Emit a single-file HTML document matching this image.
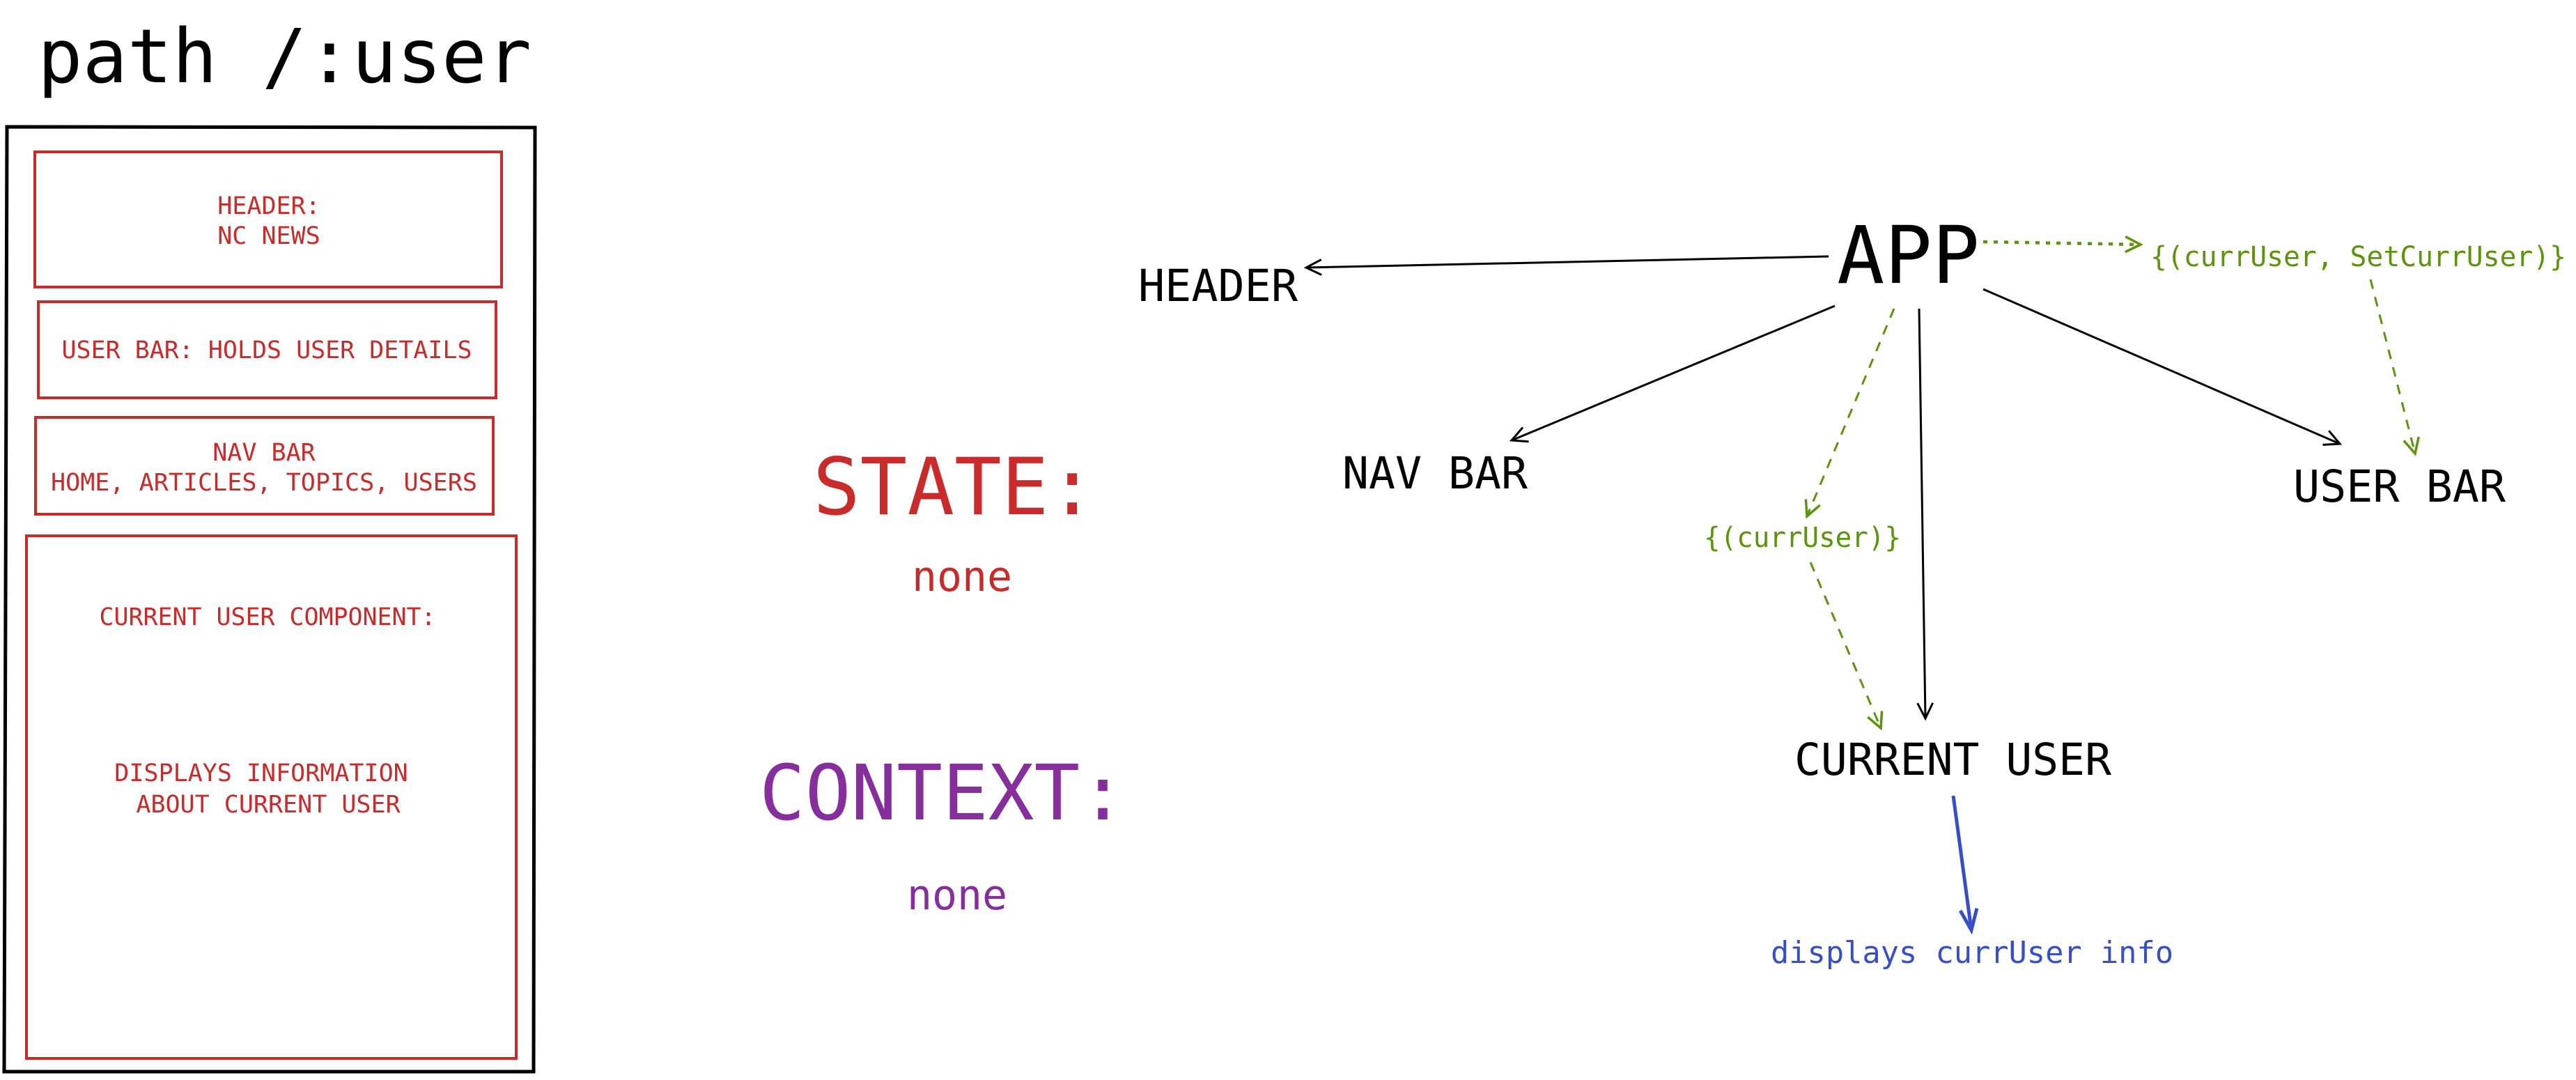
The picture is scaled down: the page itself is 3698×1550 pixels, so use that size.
<!DOCTYPE html>
<html><head><meta charset="utf-8"><style>
html,body{margin:0;padding:0;background:#fff;}
svg{display:block;}
text{font-family:"DejaVu Sans Mono","Liberation Mono",monospace;}
</style></head><body>
<svg width="3698" height="1550" viewBox="0 0 3698 1550" xmlns="http://www.w3.org/2000/svg">
<defs>
<marker id="ab" markerWidth="30" markerHeight="30" refX="26" refY="15" orient="auto" markerUnits="userSpaceOnUse"><path d="M4,4 L26,15 L4,26" fill="none" stroke="#000" stroke-width="3"/></marker>
<marker id="ag" markerWidth="30" markerHeight="30" refX="26" refY="15" orient="auto" markerUnits="userSpaceOnUse"><path d="M4,4 L26,15 L4,26" fill="none" stroke="#5c940d" stroke-width="3.5"/></marker>
<marker id="al" markerWidth="40" markerHeight="40" refX="34" refY="20" orient="auto" markerUnits="userSpaceOnUse"><path d="M4,8 L34,20 L4,32" fill="none" stroke="#364fc7" stroke-width="5"/></marker>
</defs>
<rect width="3698" height="1550" fill="#fff"/>

<text x="54" y="118" font-size="107" textLength="709" lengthAdjust="spacingAndGlyphs" fill="#000">path /:user</text>
<path d="M10,182 L768,183 L766,1538 L6,1538 Z" fill="none" stroke="#000" stroke-width="5"/>

<g fill="none" stroke="#c92a2a" stroke-width="4">
<rect x="50" y="218" width="670" height="194"/>
<rect x="55" y="433" width="657" height="138"/>
<rect x="51" y="599" width="657" height="139"/>
<rect x="38" y="769" width="703" height="750"/>
</g>
<g fill="#c92a2a" font-size="35" text-anchor="middle">
<text x="386" y="307">HEADER:</text>
<text x="386" y="350">NC NEWS</text>
<text x="383" y="514" textLength="589" lengthAdjust="spacingAndGlyphs">USER BAR: HOLDS USER DETAILS</text>
<text x="379" y="661">NAV BAR</text>
<text x="379" y="704" textLength="612" lengthAdjust="spacingAndGlyphs">HOME, ARTICLES, TOPICS, USERS</text>
<text x="384" y="897" textLength="483" lengthAdjust="spacingAndGlyphs">CURRENT USER COMPONENT:</text>
<text x="375" y="1121">DISPLAYS INFORMATION</text>
<text x="385" y="1166">ABOUT CURRENT USER</text>
</g>

<text x="1167" y="738" font-size="113" fill="#c92a2a" textLength="406" lengthAdjust="spacingAndGlyphs">STATE:</text>
<text x="1309" y="848" font-size="60" fill="#c92a2a" textLength="144" lengthAdjust="spacingAndGlyphs">none</text>
<text x="1090" y="1176" font-size="110" fill="#862e9c" textLength="526" lengthAdjust="spacingAndGlyphs">CONTEXT:</text>
<text x="1302" y="1305" font-size="60" fill="#862e9c" textLength="144" lengthAdjust="spacingAndGlyphs">none</text>

<text x="2637" y="406" font-size="114" fill="#000" textLength="205" lengthAdjust="spacingAndGlyphs">APP</text>
<text x="1634" y="432" font-size="63" fill="#000" textLength="229" lengthAdjust="spacingAndGlyphs">HEADER</text>
<text x="1927" y="701" font-size="63" fill="#000" textLength="266" lengthAdjust="spacingAndGlyphs">NAV BAR</text>
<text x="3292" y="720" font-size="63" fill="#000" textLength="305" lengthAdjust="spacingAndGlyphs">USER BAR</text>
<text x="2576" y="1112" font-size="63" fill="#000" textLength="455" lengthAdjust="spacingAndGlyphs">CURRENT USER</text>
<text x="3087" y="382" font-size="40" fill="#5c940d" textLength="597" lengthAdjust="spacingAndGlyphs">{(currUser, SetCurrUser)}</text>
<text x="2446" y="785" font-size="40" fill="#5c940d" textLength="283" lengthAdjust="spacingAndGlyphs">{(currUser)}</text>
<text x="2542" y="1382" font-size="44" fill="#364fc7" textLength="578" lengthAdjust="spacingAndGlyphs">displays currUser info</text>

<g stroke="#000" stroke-width="3" fill="none">
<line x1="2625" y1="368" x2="1875" y2="384" marker-end="url(#ab)"/>
<line x1="2634" y1="439" x2="2170" y2="632" marker-end="url(#ab)"/>
<line x1="2755" y1="443" x2="2764" y2="1031" marker-end="url(#ab)"/>
<line x1="2847" y1="415" x2="3359" y2="637" marker-end="url(#ab)"/>
</g>
<g stroke="#5c940d" fill="none">
<line x1="2847" y1="347" x2="3073" y2="351" stroke-width="4.5" stroke-dasharray="6 9" marker-end="url(#ag)"/>
<line x1="3403" y1="401" x2="3467" y2="651" stroke-width="3" stroke-dasharray="14 12" marker-end="url(#ag)"/>
<line x1="2719" y1="443" x2="2594" y2="741" stroke-width="3" stroke-dasharray="14 12" marker-end="url(#ag)"/>
<line x1="2599" y1="807" x2="2700" y2="1045" stroke-width="3" stroke-dasharray="14 12" marker-end="url(#ag)"/>
</g>
<line x1="2804" y1="1142" x2="2830" y2="1335" stroke="#364fc7" stroke-width="5" marker-end="url(#al)"/>
</svg>
</body></html>
